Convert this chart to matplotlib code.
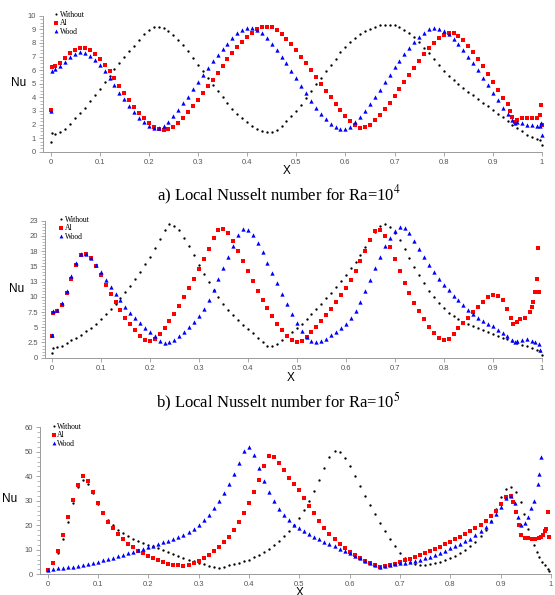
import numpy as np
import matplotlib
matplotlib.use('Agg')
import matplotlib.pyplot as plt
from matplotlib.ticker import MultipleLocator, AutoMinorLocator

plt.rcParams['mathtext.fontset'] = 'stix'

# ---------------- Ra = 1e4 ----------------
# body values are on x = 0.01, 0.02, ... ; head / tail points listed with their own x
w4_head_x = [0.0, 0.003]
w4_head_y = [0.7, 1.35]
w4_body = [1.32, 1.45, 1.7, 2.05, 2.45, 2.85, 3.25, 3.7, 4.15, 4.6,
           5.1, 5.55, 6.05, 6.5, 6.95, 7.4, 7.8, 8.25, 8.65, 8.95,
           9.15, 9.2, 9.1, 8.9, 8.6, 8.25, 7.85, 7.4, 6.9, 6.4,
           5.9, 5.4, 4.9, 4.45, 4.0, 3.55, 3.15, 2.8, 2.45, 2.15,
           1.9, 1.65, 1.5, 1.42, 1.45, 1.6, 1.9, 2.25, 2.6, 3.0,
           3.45, 3.95, 4.45, 4.95, 5.45, 5.95, 6.4, 6.85, 7.3, 7.7,
           8.05, 8.35, 8.65, 8.9, 9.05, 9.2, 9.3, 9.35, 9.35, 9.3,
           9.15, 8.95, 8.7, 8.4, 8.05, 7.65, 7.25, 6.8, 6.35, 5.95,
           5.6, 5.25, 4.95, 4.65, 4.4, 4.15, 3.9, 3.6, 3.35, 3.1,
           2.8, 2.55, 2.25]
w4_tail_x = [0.94, 0.95, 0.96, 0.97, 0.98, 0.99, 0.997, 1.0]
w4_tail_y = [2.0, 1.75, 1.5, 1.25, 1.05, 0.92, 0.88, 0.5]

al4_head_x = [0.0, 0.003]
al4_head_y = [3.05, 6.2]
al4_body = [6.3, 6.55, 6.9, 7.25, 7.5, 7.62, 7.6, 7.45, 7.2, 6.85,
            6.4, 5.9, 5.4, 4.85, 4.3, 3.8, 3.3, 2.85, 2.45, 2.1,
            1.85, 1.7, 1.63, 1.68, 1.85, 2.1, 2.5, 2.9, 3.35, 3.8,
            4.3, 4.8, 5.3, 5.8, 6.3, 6.8, 7.25, 7.7, 8.1, 8.45,
            8.75, 9.0, 9.15, 9.2, 9.15, 8.95, 8.65, 8.3, 7.9, 7.45,
            7.0, 6.5, 6.0, 5.5, 5.0, 4.5, 4.0, 3.5, 3.05, 2.65,
            2.25, 1.95, 1.78, 1.8, 2.0, 2.3, 2.7, 3.15, 3.6, 4.1,
            4.6, 5.1, 5.65, 6.15, 6.65, 7.15, 7.6, 8.0, 8.35, 8.6,
            8.75, 8.7, 8.5, 8.2, 7.8, 7.35, 6.85, 6.3, 5.75, 5.15,
            4.55, 3.95, 3.5]
al4_tail_x = [0.935, 0.94, 0.945, 0.95, 0.96, 0.97, 0.98, 0.99, 0.995, 0.998, 1.0]
al4_tail_y = [3.0, 2.55, 2.2, 2.35, 2.45, 2.45, 2.45, 2.5, 2.7, 3.4, 2.0]

wd4_head_x = [0.0, 0.003]
wd4_head_y = [3.0, 5.95]
wd4_body = [6.05, 6.3, 6.6, 6.95, 7.2, 7.3, 7.25, 7.05, 6.75, 6.35,
            5.9, 5.4, 4.9, 4.35, 3.85, 3.35, 2.9, 2.5, 2.15, 1.9,
            1.77, 1.75, 1.9, 2.2, 2.6, 3.05, 3.55, 4.05, 4.6, 5.1,
            5.65, 6.15, 6.65, 7.1, 7.55, 7.95, 8.35, 8.7, 8.95, 9.1,
            9.1, 8.95, 8.7, 8.35, 7.95, 7.5, 7.0, 6.5, 5.95, 5.4,
            4.85, 4.3, 3.75, 3.25, 2.8, 2.4, 2.05, 1.8, 1.65, 1.68,
            1.85, 2.15, 2.55, 3.0, 3.5, 4.0, 4.55, 5.1, 5.65, 6.2,
            6.7, 7.2, 7.65, 8.05, 8.4, 8.75, 9.0, 9.1, 9.05, 8.9,
            8.65, 8.3, 7.9, 7.45, 7.0, 6.5, 6.0, 5.45, 4.9, 4.35,
            3.8, 3.25, 2.75]
wd4_tail_x = [0.94, 0.945, 0.95, 0.96, 0.97, 0.98, 0.99, 0.995, 0.999, 1.0]
wd4_tail_y = [2.3, 2.1, 2.2, 2.1, 2.0, 1.95, 1.9, 1.9, 2.1, 1.2]

# ---------------- Ra = 1e5 ----------------
w5_head_x = [0.0, 0.003]
w5_head_y = [0.8, 1.6]
w5_body = [1.7, 2.0, 2.4, 2.85, 3.3, 3.8, 4.35, 4.95, 5.6, 6.3,
           7.1, 7.95, 8.85, 9.8, 10.8, 11.85, 12.95, 14.1, 15.35, 16.6,
           18.0, 19.5, 21.0, 21.9, 21.7, 20.9, 19.7, 18.3, 16.8, 15.2,
           13.8, 12.5, 11.2, 10.0, 8.9, 7.9, 7.0, 6.15, 5.4, 4.7,
           4.0, 3.3, 2.6, 2.0, 1.95, 2.3, 2.9, 3.5, 4.15, 4.8,
           5.55, 6.3, 7.1, 7.95, 8.85, 9.75, 10.65, 11.6, 12.6, 13.6,
           14.65, 15.75, 16.9, 18.1, 19.3, 20.6, 21.7, 22.0, 21.5, 20.5,
           19.3, 17.9, 16.4, 14.9, 13.5, 12.2, 11.0, 9.9, 8.95, 8.1,
           7.4, 6.8, 6.3, 5.9, 5.55, 5.2, 4.85, 4.5, 4.2, 3.9,
           3.6, 3.3, 3.0]
w5_tail_x = [0.94, 0.95, 0.96, 0.97, 0.98, 0.99, 0.997, 1.0]
w5_tail_y = [2.75, 2.45, 2.15, 1.85, 1.55, 1.3, 1.1, 0.5]

al5_head_x = [0.0, 0.003]
al5_head_y = [3.5, 7.4]
al5_body = [7.6, 8.6, 10.6, 13.0, 15.3, 16.9, 17.0, 16.3, 15.0, 13.5,
            12.0, 10.5, 9.1, 7.8, 6.6, 5.5, 4.5, 3.6, 2.9, 2.7,
            3.1, 3.9, 4.9, 6.0, 7.2, 8.5, 9.9, 11.4, 13.0, 14.6,
            16.2, 17.9, 19.6, 21.0, 21.2, 20.5, 19.2, 17.6, 15.9, 14.2,
            12.6, 11.0, 9.5, 8.1, 6.8, 5.6, 4.5, 3.6, 2.9, 2.6,
            2.8, 3.4, 4.2, 5.1, 6.0, 7.0, 8.0, 9.1, 10.3, 11.5,
            12.8, 14.2, 15.8, 17.5, 19.3, 20.8, 21.0, 20.0, 18.2, 16.2,
            14.2, 12.3, 10.6, 9.0, 7.6, 6.3, 5.1, 4.0, 3.2, 2.85,
            3.1, 3.9, 4.8, 5.7, 6.6, 7.5, 8.4, 9.2, 9.9, 10.3,
            10.1, 9.4, 8.0]
al5_tail_x = [0.937, 0.942, 0.949, 0.956, 0.966, 0.976, 0.98, 0.983, 0.986, 0.99, 0.993, 0.995]
al5_tail_y = [6.5, 5.5, 5.9, 6.3, 6.6, 7.5, 8.3, 9.2, 10.8, 12.9, 18.0, 10.8]

wd5_head_x = [0.0, 0.003]
wd5_head_y = [3.8, 7.6]
wd5_body = [7.9, 9.0, 11.0, 13.4, 15.6, 17.1, 17.1, 16.4, 15.3, 14.0,
            12.8, 11.6, 10.5, 9.4, 8.4, 7.4, 6.5, 5.7, 4.95, 4.3,
            3.6, 2.8, 2.35, 2.5, 2.9, 3.5, 4.3, 5.1, 5.9, 6.8,
            8.0, 9.5, 11.1, 12.9, 14.8, 16.6, 18.4, 20.1, 21.2, 21.0,
            20.1, 18.8, 17.3, 15.6, 13.9, 12.2, 10.5, 8.8, 7.2, 5.7,
            4.4, 3.4, 2.7, 2.5, 2.7, 3.1, 3.7, 4.3, 4.9, 5.6,
            6.5, 7.7, 9.2, 10.9, 12.8, 14.7, 16.6, 18.3, 19.7, 20.8,
            21.5, 21.3, 20.4, 19.2, 17.9, 16.5, 15.2, 14.0, 12.9, 12.0,
            11.1, 10.2, 9.4, 8.6, 7.9, 7.2, 6.6, 6.1, 5.6, 5.2,
            4.6, 4.0, 3.5]
wd5_tail_x = [0.94, 0.945, 0.95, 0.96, 0.97, 0.98, 0.986, 0.995, 0.997]
wd5_tail_y = [2.9, 2.6, 2.8, 2.95, 3.0, 2.8, 2.5, 2.3, 1.3]

# ---------------- Ra = 1e6 ----------------
w6_head_x = [0.0]
w6_head_y = [2.0]
w6_body = [4.5, 8.5, 14.5, 21.5, 29.0, 35.5, 38.5, 37.0, 33.0, 28.5,
           25.0, 22.2, 20.0, 18.2, 16.7, 15.6, 14.6, 13.7, 12.9, 12.1,
           11.4, 10.7, 10.0, 9.2, 8.4, 7.6, 6.8, 6.0, 5.3, 4.6,
           4.0, 3.4, 2.8, 2.7, 3.1, 3.6, 4.1, 4.7, 5.3, 6.0,
           6.9, 7.9, 9.0, 10.3, 11.8, 13.5, 15.5, 17.7, 20.2, 23.0,
           26.2, 29.8, 33.8, 38.5, 43.5, 48.0, 50.5, 50.0, 47.5, 44.0,
           40.0, 36.0, 32.0, 28.2, 24.5, 21.0, 17.5, 14.3, 11.4, 8.8,
           6.7, 5.0, 4.0, 3.7, 3.8, 4.1, 4.5, 5.0, 5.7, 6.5,
           7.5, 8.6, 9.9, 11.5, 13.3, 15.5, 18.2, 21.8, 26.5, 31.5,
           34.8, 35.6]
w6_tail_x = [0.93, 0.94, 0.947, 0.954, 0.96, 0.967, 0.972, 0.977, 0.983, 0.988, 0.994, 0.997]
w6_tail_y = [33.5, 29.6, 24.5, 18.6, 15.0, 11.8, 9.3, 7.1, 5.2, 3.8, 2.3, 1.2]

al6_head_x = [0.0]
al6_head_y = [1.8]
al6_body = [4.8, 9.5, 16.0, 23.5, 30.5, 36.5, 40.0, 38.0, 33.5, 29.0,
            25.0, 21.5, 18.7, 16.3, 14.3, 12.5, 11.0, 9.7, 8.5, 7.5,
            6.6, 5.8, 5.0, 4.4, 3.9, 3.6, 3.5, 3.8, 4.5, 5.5,
            6.6, 7.9, 9.4, 11.1, 13.0, 15.3, 18.0, 21.3, 25.0, 29.0,
            33.5, 38.5, 44.0, 48.3, 48.0, 45.5, 42.5, 39.5, 37.0, 34.4,
            31.2, 28.0, 25.0, 21.8, 18.8, 16.4, 14.3, 12.4, 10.8, 9.3,
            8.0, 6.7, 5.5, 4.5, 3.7, 3.0, 3.2, 3.7, 4.3, 5.0,
            5.7, 6.4, 7.1, 7.8, 8.6, 9.5, 10.4, 11.3, 12.3, 13.3,
            14.3, 15.3, 16.4, 17.5, 18.8, 20.2, 21.8, 23.8, 26.0, 28.5,
            31.5, 32.0]
al6_tail_x = [0.925, 0.931, 0.937, 0.941, 0.948, 0.955, 0.962, 0.969, 0.976, 0.98, 0.984, 0.988, 0.991, 0.994, 0.997]
al6_tail_y = [29.5, 25.4, 20.0, 16.0, 15.0, 14.8, 14.6, 14.6, 14.8, 15.3, 16.2, 17.8, 18.5, 25.4, 15.2]

wd6_head_x = [0.0]
wd6_head_y = [1.8]
wd6_body = [2.2, 2.5, 2.7, 2.9, 3.1, 3.4, 3.8, 4.2, 4.7, 5.2,
            5.7, 6.2, 6.8, 7.4, 8.0, 8.6, 9.2, 9.8, 10.4, 11.0,
            11.6, 12.3, 13.0, 13.7, 14.5, 15.3, 16.2, 17.2, 18.4, 20.0,
            22.0, 24.3, 27.0, 30.0, 33.3, 37.0, 41.0, 45.5, 50.5, 51.8,
            48.5, 43.5, 38.0, 33.5, 29.8, 26.8, 24.2, 22.0, 20.3, 18.8,
            17.5, 16.3, 15.2, 14.2, 13.3, 12.4, 11.5, 10.5, 9.5, 8.6,
            7.6, 6.6, 5.5, 4.5, 3.7, 3.1, 3.3, 3.8, 4.3, 4.5,
            4.6, 5.0, 5.5, 6.0, 6.5, 7.2, 8.0, 8.8, 9.7, 10.6,
            11.5, 12.4, 13.4, 14.6, 16.0, 17.6, 19.5, 21.8, 24.5, 27.6,
            31.0, 32.0]
wd6_tail_x = [0.928, 0.935, 0.941, 0.948, 0.954, 0.961, 0.967, 0.974, 0.977, 0.981]
wd6_tail_y = [29.0, 23.4, 20.0, 20.8, 23.4, 27.0, 30.0, 37.0, 41.0, 48.0]


def series(hx, hy, body, tx, ty):
    gx = np.round(0.01 * np.arange(1, len(body) + 1), 2)
    return np.concatenate([hx, gx, tx]), np.concatenate([hy, body, ty])


panels = [
    dict(rect=[0.0769, 0.7450, 0.8996, 0.2286], xmin=-0.016, ymax=10,
         yticks=np.arange(0, 11, 1), ylabels=[str(v) for v in range(11)], minor=4,
         data=[series(w4_head_x, w4_head_y, w4_body, w4_tail_x, w4_tail_y),
               series(al4_head_x, al4_head_y, al4_body, al4_tail_x, al4_tail_y),
               series(wd4_head_x, wd4_head_y, wd4_body, wd4_tail_x, wd4_tail_y)],
         leg=(0.022, 1.035), nu=(19, 83), xl=(287, 171)),
    dict(rect=[0.0811, 0.3988, 0.8950, 0.2303], xmin=-0.014, ymax=22.5,
         yticks=np.arange(0, 23, 2.5),
         ylabels=['0', '2.5', '5', '7.5', '10', '13', '15', '18', '20', '23'], minor=5,
         data=[series(w5_head_x, w5_head_y, w5_body, w5_tail_x, w5_tail_y),
               series(al5_head_x, al5_head_y, al5_body, al5_tail_x, al5_tail_y),
               series(wd5_head_x, wd5_head_y, wd5_body, wd5_tail_x, wd5_tail_y)],
         leg=(0.028, 1.035), nu=(17, 289), xl=(291, 378)),
    dict(rect=[0.0721, 0.0348, 0.9207, 0.2471], xmin=-0.015, ymax=60,
         yticks=np.arange(0, 61, 10), ylabels=[str(v) for v in range(0, 61, 10)], minor=5,
         data=[series(w6_head_x, w6_head_y, w6_body, w6_tail_x, w6_tail_y),
               series(al6_head_x, al6_head_y, al6_body, al6_tail_x, al6_tail_y),
               series(wd6_head_x, wd6_head_y, wd6_body, wd6_tail_x, wd6_tail_y)],
         leg=(0.022, 1.03), nu=(10, 499), xl=(300, 593)),
]

names = ['Without', 'Al', 'Wood']
colors = ['black', 'red', 'blue']
markers = ['o', 's', '^']
sizes = [1.7, 2.9, 3.1]
grey = '#9a9a9a'

fig = plt.figure(figsize=(5.55, 5.95), dpi=100)

for p in panels:
    ax = fig.add_axes(p['rect'])
    for (x, y), nm, c, m, s in zip(p['data'], names, colors, markers, sizes):
        ax.plot(x, y, linestyle='none', marker=m, ms=s, color=c, mec=c, mew=0,
                label=nm, clip_on=False)
    ax.set_xlim(p['xmin'], 1.0)
    ax.set_ylim(0, p['ymax'])
    ax.set_xticks(np.round(np.arange(0, 1.01, 0.1), 1))
    ax.set_xticklabels(['0', '0.1', '0.2', '0.3', '0.4', '0.5', '0.6', '0.7', '0.8', '0.9', '1'])
    ax.set_yticks(p['yticks'])
    ax.set_yticklabels(p['ylabels'])
    ax.yaxis.set_minor_locator(AutoMinorLocator(p['minor']))
    for side in ['top', 'right']:
        ax.spines[side].set_visible(False)
    for side in ['left', 'bottom']:
        ax.spines[side].set_color(grey)
        ax.spines[side].set_linewidth(0.7)
    ax.tick_params(axis='both', which='major', length=3, width=0.6, color=grey,
                   labelsize=5.5, labelcolor='#555555', pad=2, labelfontfamily='Liberation Sans')
    ax.tick_params(axis='y', which='minor', length=2, width=0.5, color=grey)
    leg = ax.legend(loc='upper left', bbox_to_anchor=p['leg'], frameon=False,
                    handlelength=0.6, handletextpad=0.2, labelspacing=0.05,
                    borderaxespad=0, borderpad=0, markerscale=0.9,
                    prop={'family': 'Liberation Serif', 'size': 5.5})
    fig.text(p['nu'][0] / 555, 1 - p['nu'][1] / 595, 'Nu', ha='center', va='center',
             fontsize=8.5, family='Liberation Sans')
    fig.text(p['xl'][0] / 555, 1 - p['xl'][1] / 595, 'X', ha='center', va='center',
             fontsize=8.5, family='Liberation Sans')

fig.text(0.502, 1 - 195 / 595, 'a) Local Nusselt number for Ra=10$^4$', ha='center', va='center',
         fontsize=12, family='Liberation Serif')
fig.text(0.502, 1 - 402 / 595, 'b) Local Nusselt number for Ra=10$^5$', ha='center', va='center',
         fontsize=12, family='Liberation Serif')

fig.savefig('out.png', dpi=100)
